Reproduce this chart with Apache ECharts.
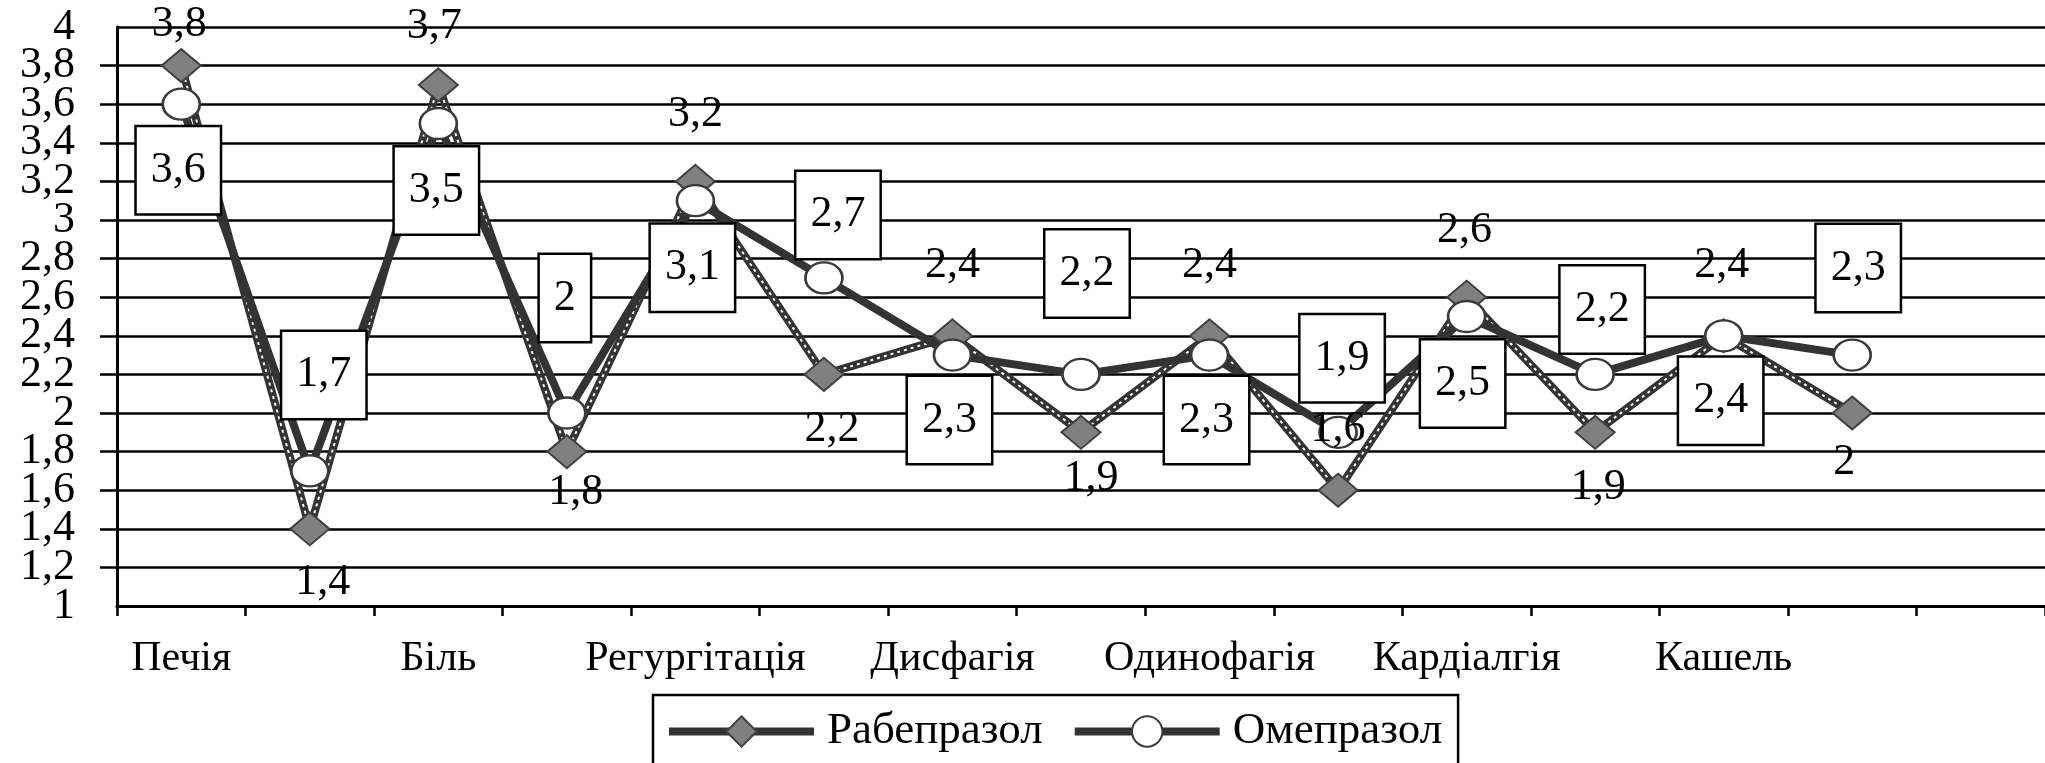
<!DOCTYPE html>
<html lang="uk">
<head>
<meta charset="UTF-8">
<title>Рабепразол / Омепразол</title>
<script src="https://cdn.jsdelivr.net/npm/echarts@6/dist/echarts.min.js"></script>
<style>
  html, body { margin: 0; padding: 0; background: #fff; }
  #chart { width: 2045px; height: 763px; }
</style>
</head>
<body>
<div id="chart"></div>
<script>
// 14 points, symptom name only under every second one, plus an empty slot at the end
const categories = ['Печія', '', 'Біль', '', 'Регургітація', '', 'Дисфагія', '', 'Одинофагія', '', 'Кардіалгія', '', 'Кашель', '', ''];
const rabeprazole = [3.8, 1.4, 3.7, 1.8, 3.2, 2.2, 2.4, 1.9, 2.4, 1.6, 2.6, 1.9, 2.4, 2.0];
const omeprazole = [3.6, 1.7, 3.5, 2.0, 3.1, 2.7, 2.3, 2.2, 2.3, 1.9, 2.5, 2.2, 2.4, 2.3];
const yMin = 1, yMax = 4, yStep = 0.2;

// label placement relative to the point (px)
const rabeLabelShift = [[-2, -41], [13, 54], [-4, -58], [9, 41], [0, -67], [8, 55], [0, -70], [10, 46], [0, -70], [0, -61], [-2, -67], [3, 55], [-2, -70], [-8, 49]];
const omeLabelShift = [[-3, 66], [14, -96], [-2, 67], [-2, -115], [-3, 67], [14, -63], [-3, 65], [6, -101], [-3, 65], [4, -74], [-4, 67], [7, -65], [-3, 65], [6, -87]];

const font = "'Liberation Serif', 'Times New Roman', serif";
const comma = v => String(+(+v).toFixed(1)).replace('.', ',');
const ellipse = 'path://M0,50 A50,50 0 1,1 100,50 A50,50 0 1,1 0,50 Z';
const yLabelStyle = { margin: 42, color: '#000', fontFamily: font, fontSize: 44, hideOverlap: false };

let myChart = echarts.init(document.getElementById('chart'));

let option = {
  backgroundColor: '#fff',
  animation: false,
  grid: { left: 117, right: -12, top: 27, bottom: 157 },
  xAxis: {
    type: 'category',
    data: categories,
    axisLine: { lineStyle: { color: '#000', width: 3 } },
    axisTick: { show: true, length: 10, interval: 0, lineStyle: { color: '#000', width: 2.5 } },
    axisLabel: { interval: 0, margin: 32, color: '#000', fontFamily: font, fontSize: 42 }
  },
  yAxis: [
    {
      // inner ticks: 1,2 ... 3,8
      type: 'value',
      min: yMin,
      max: yMax,
      interval: yStep,
      axisLine: { show: true, lineStyle: { color: '#000', width: 3 } },
      axisTick: { show: true, length: 17, lineStyle: { color: '#000', width: 2.5 } },
      axisLabel: Object.assign({ showMinLabel: false, showMaxLabel: false, formatter: comma }, yLabelStyle),
      splitLine: { lineStyle: { color: '#000', width: 2.5 } }
    },
    {
      // only the end labels 1 and 4
      type: 'value',
      position: 'left',
      min: yMin,
      max: yMax,
      interval: yStep,
      axisLine: { show: false },
      axisTick: { show: false },
      splitLine: { show: false },
      axisLabel: Object.assign({
        showMinLabel: true, showMaxLabel: true,
        formatter: v => (Math.abs(v - yMin) < 1e-6 || Math.abs(v - yMax) < 1e-6) ? comma(v) : ''
      }, yLabelStyle)
    }
  ],
  legend: {
    data: ['Рабепразол', 'Омепразол'],
    left: 653,
    top: 695,
    itemWidth: 145,
    itemHeight: 38,
    itemGap: 28,
    padding: [14, 16, 40, 12],
    borderColor: '#000',
    borderWidth: 2.5,
    backgroundColor: '#fff',
    lineStyle: { width: 8 },
    textStyle: { color: '#000', fontFamily: font, fontSize: 45, padding: [0, 0, 0, 8] }
  },
  series: [
    {
      // dark band of the rabeprazole line
      name: 'Рабепразол',
      type: 'line',
      z: 2,
      data: rabeprazole,
      symbol: 'diamond',
      showSymbol: false,
      lineStyle: { color: '#333', width: 8 },
      itemStyle: { color: '#808080', borderColor: '#404040', borderWidth: 2 }
    },
    {
      // white dashes inside it
      name: 'rabe-dash',
      type: 'line',
      z: 3,
      silent: true,
      data: rabeprazole,
      showSymbol: false,
      lineStyle: { color: '#fff', width: 2, type: [3, 4] }
    },
    {
      name: 'rabe-points',
      type: 'line',
      z: 4,
      data: rabeprazole,
      symbol: 'diamond',
      symbolSize: [39, 33],
      lineStyle: { opacity: 0 },
      itemStyle: { color: '#808080', borderColor: '#404040', borderWidth: 2 }
    },
    {
      name: 'Омепразол',
      type: 'line',
      z: 5,
      data: omeprazole.map((v, i) => ({ value: v, label: { offset: omeLabelShift[i] } })),
      symbol: ellipse,
      symbolSize: [37, 31],
      lineStyle: { color: '#333', width: 8 },
      itemStyle: { color: '#fff', borderColor: '#3a3a3a', borderWidth: 2.5 },
      label: {
        show: true,
        position: 'inside',
        color: '#000',
        fontFamily: font,
        fontSize: 44,
        lineHeight: 44,
        backgroundColor: '#fff',
        borderColor: '#000',
        borderWidth: 2.5,
        padding: [21, 14],
        formatter: p => comma(p.value)
      }
    },
    {
      // rabeprazole value labels, kept above every line
      name: 'rabe-labels',
      type: 'line',
      z: 6,
      silent: true,
      data: rabeprazole.map((v, i) => ({ value: v, label: { offset: rabeLabelShift[i] } })),
      symbol: 'rect',
      symbolSize: 1,
      lineStyle: { opacity: 0 },
      itemStyle: { color: 'rgba(0,0,0,0)' },
      label: {
        show: true,
        position: 'inside',
        color: '#000',
        fontFamily: font,
        fontSize: 44,
        formatter: p => comma(p.value)
      }
    }
  ]
};

myChart.setOption(option);
</script>
</body>
</html>
